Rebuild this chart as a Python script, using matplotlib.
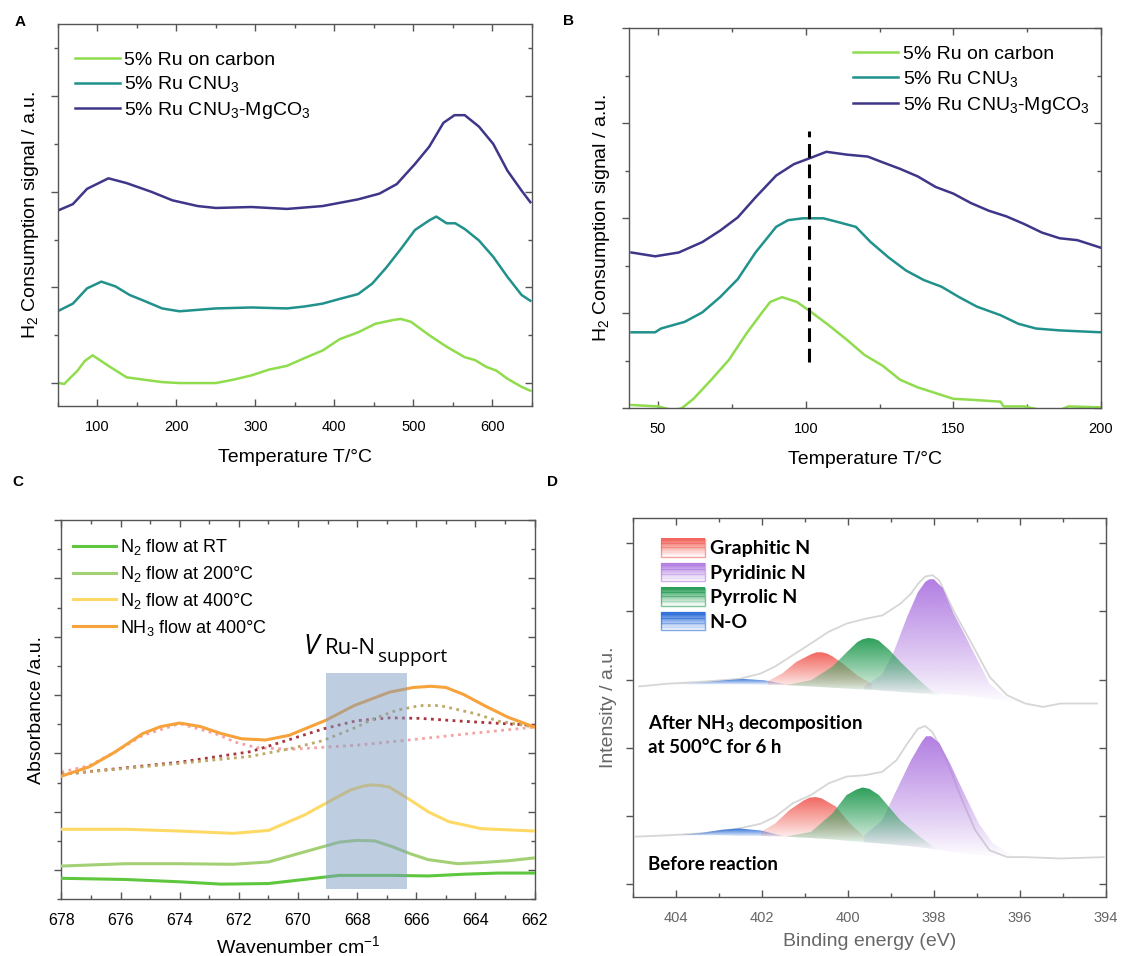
import numpy as np
import matplotlib
matplotlib.use("Agg")
import matplotlib.pyplot as plt
import matplotlib.colors as mcolors
from matplotlib.legend_handler import HandlerBase
from matplotlib.patches import Rectangle, Patch
from matplotlib.ticker import MultipleLocator

plt.rcParams["font.family"] = ["Liberation Sans", "DejaVu Sans"]
plt.rcParams["mathtext.fontset"] = "custom"
plt.rcParams["mathtext.rm"] = "Liberation Sans"
plt.rcParams["mathtext.bf"] = "Lato:bold"
plt.rcParams["mathtext.default"] = "rm"

# ── Panel A: TPR 50-650 °C ────────────────────────────────────────────────
A_T_carbon = [52, 58, 75, 84, 94, 114, 137, 159, 182, 204, 250, 272, 295, 317, 340, 362,
              385, 407, 430, 452, 475, 484, 497, 520, 542, 565, 578, 592, 605, 619, 637, 648]
A_carbon = [0.0, -0.01, 0.13, 0.23, 0.29, 0.18, 0.06, 0.035, 0.01, 0.0, 0.0, 0.035, 0.08,
            0.14, 0.18, 0.26, 0.34, 0.46, 0.53, 0.62, 0.66, 0.67, 0.64, 0.50, 0.38, 0.27,
            0.24, 0.17, 0.13, 0.045, -0.04, -0.08]
A_T_cnu = [52, 69, 87, 105, 123, 141, 159, 182, 204, 250, 295, 340, 362, 385, 407, 430, 448,
           466, 484, 502, 520, 529, 542, 553, 565, 583, 601, 619, 637, 648]
A_cnu = [0.76, 0.83, 0.99, 1.06, 1.01, 0.92, 0.86, 0.78, 0.75, 0.78, 0.79, 0.78, 0.80, 0.83,
         0.88, 0.93, 1.04, 1.21, 1.40, 1.60, 1.70, 1.74, 1.67, 1.67, 1.61, 1.49, 1.32, 1.11,
         0.92, 0.86]
A_T_mg = [52, 69, 87, 114, 137, 168, 195, 227, 250, 295, 340, 385, 430, 457, 479, 502, 520,
          538, 552, 565, 583, 601, 619, 637, 648]
A_mg = [1.81, 1.87, 2.03, 2.14, 2.09, 2.00, 1.91, 1.85, 1.83, 1.84, 1.82, 1.85, 1.92, 1.98,
        2.08, 2.29, 2.47, 2.72, 2.80, 2.80, 2.68, 2.50, 2.22, 2.01, 1.89]

# ── Panel B: TPR 40-200 °C ────────────────────────────────────────────────
B_T_carbon = [41, 50, 55, 58, 62, 68, 74, 80, 85, 88, 92, 97, 102, 108, 114, 120, 126, 132,
              138, 144, 150, 156, 166, 167, 174, 180, 186, 189, 200]
B_carbon = [0.035, 0.02, -0.02, 0.0, 0.1, 0.30, 0.51, 0.79, 1.0, 1.12, 1.17, 1.12, 1.01,
            0.87, 0.72, 0.56, 0.45, 0.30, 0.22, 0.16, 0.10, 0.09, 0.07, 0.02, 0.02, -0.02,
            -0.02, 0.02, 0.01]
B_T_cnu = [41, 49, 51, 59, 65, 71, 77, 83, 90, 94, 99, 106, 111, 117, 122, 128, 134, 140,
           146, 152, 158, 166, 172, 178, 186, 200]
B_cnu = [0.80, 0.80, 0.84, 0.91, 1.01, 1.17, 1.36, 1.64, 1.91, 1.98, 2.0, 2.0, 1.96, 1.91,
         1.75, 1.59, 1.45, 1.35, 1.28, 1.17, 1.07, 0.98, 0.89, 0.84, 0.82, 0.80]
B_T_mg = [41, 49, 57, 65, 71, 77, 83, 90, 96, 102, 107, 114, 121, 126, 132, 138, 144, 150,
          156, 162, 168, 174, 180, 186, 192, 200]
B_mg = [1.64, 1.60, 1.64, 1.75, 1.87, 2.01, 2.22, 2.45, 2.57, 2.64, 2.70, 2.67, 2.65, 2.59,
        2.52, 2.44, 2.33, 2.26, 2.16, 2.08, 2.02, 1.94, 1.85, 1.79, 1.77, 1.69]
B_mark_T = 101
B_mark_y = [0.49, 2.92]

SAMPLES = ["5% Ru on carbon", "5% Ru CNU$_3$", "5% Ru CNU$_3$-MgCO$_3$"]
TPR_COLORS = ["#8fdc4c", "#21918c", "#3e3688"]

# ── Panel C: DRIFTS ───────────────────────────────────────────────────────
C_wn_rt = [678, 675.85, 674, 672.6, 671, 669.8, 668.6, 666.8, 665.6, 664.4, 663.2, 662]
C_rt = [-0.14, -0.16, -0.20, -0.24, -0.23, -0.16, -0.09, -0.09, -0.10, -0.07, -0.05, -0.05]
C_wn_200 = [678, 675.85, 674, 672.2, 671, 669.8, 668.6, 668, 667.4, 666.8, 666.2, 665.6,
            664.6, 663.8, 662.9, 662]
C_200 = [0.07, 0.11, 0.11, 0.10, 0.14, 0.31, 0.48, 0.51, 0.50, 0.40, 0.28, 0.18, 0.11, 0.13,
         0.16, 0.21]
C_wn_400 = [678, 675.85, 674, 672.2, 671, 669.8, 668.97, 668.24, 667.8, 667.5, 667.2, 666.9,
            666.2, 665.6, 664.9, 663.8, 662]
C_400 = [0.70, 0.70, 0.67, 0.63, 0.68, 0.94, 1.17, 1.37, 1.44, 1.46, 1.45, 1.42, 1.20, 1.00,
         0.83, 0.71, 0.67]
C_wn_nh3 = [678, 677.06, 676.2, 675.25, 674.64, 674, 673.3, 672.6, 671.9, 671.1, 670.3,
            669.05, 668.1, 666.9, 666.1, 665.5, 665.0, 664.4, 663.7, 662.9, 662]
C_nh3 = [1.61, 1.77, 2.02, 2.34, 2.46, 2.52, 2.46, 2.34, 2.25, 2.23, 2.31, 2.57, 2.82, 3.05,
         3.13, 3.15, 3.13, 3.01, 2.82, 2.62, 2.45]
C_wn_fit1 = [678, 677.06, 676.2, 675.25, 674, 672.8, 672.1, 671.4, 670.27, 668.02, 665.87,
             664, 662]
C_fit1 = [1.68, 1.79, 2.02, 2.31, 2.51, 2.34, 2.19, 2.10, 2.07, 2.14, 2.25, 2.35, 2.45]
C_wn_fit2 = [678, 674, 671.6, 670.27, 669.15, 668.02, 666.89, 665.87, 664.4, 662]
C_fit2 = [1.64, 1.85, 2.03, 2.24, 2.42, 2.56, 2.61, 2.60, 2.55, 2.48]
C_wn_fit3 = [678, 674, 671.6, 670.27, 669.15, 668.02, 667.46, 666.66, 665.87, 665.2, 664,
             663.2, 662]
C_fit3 = [1.64, 1.83, 1.95, 2.08, 2.22, 2.45, 2.59, 2.74, 2.82, 2.82, 2.68, 2.55, 2.45]
C_band = [669.05, 666.33]
C_band_y = [-0.325, 3.38]

C_LABELS = ["N$_2$ flow at RT", "N$_2$ flow at 200°C", "N$_2$ flow at 400°C",
            "NH$_3$ flow at 400°C"]
C_COLORS = ["#5ec73e", "#a4d075", "#ffd966", "#f7a23a"]
C_FIT_COLORS = ["#f4a3a3", "#a9343c", "#bfa765"]

# ── Panel D: XPS N 1s ─────────────────────────────────────────────────────
D_be_raw_up = [404.86, 404.19, 403.36, 402.53, 402.03, 401.7, 401.28, 400.86, 400.45, 400.03,
               399.6, 399.2, 398.78, 398.53, 398.37, 398.2, 398.03, 397.87, 397.54, 397.12,
               396.7, 396.29, 395.87, 395.46, 395.04, 394.2]
D_raw_up = [2.90, 2.94, 2.97, 3.01, 3.09, 3.19, 3.36, 3.53, 3.70, 3.82, 3.89, 3.94, 4.11,
            4.26, 4.40, 4.51, 4.53, 4.45, 4.01, 3.53, 3.04, 2.77, 2.65, 2.60, 2.65, 2.65]
D_be_raw_lo = [404.94, 404.19, 403.36, 402.53, 402.03, 401.7, 401.28, 400.86, 400.45, 400.03,
               399.6, 399.2, 398.87, 398.62, 398.37, 398.2, 398.03, 397.7, 397.37, 397.04,
               396.7, 396.29, 395.87, 395.04, 394.04]
D_raw_lo = [0.70, 0.72, 0.75, 0.82, 0.89, 0.99, 1.19, 1.31, 1.48, 1.58, 1.60, 1.65, 1.82,
            2.06, 2.28, 2.32, 2.23, 1.82, 1.28, 0.80, 0.50, 0.40, 0.40, 0.38, 0.40]

# fitted components: binding energy, upper edge, background under it
D_no_up = ([404.02, 403.36, 402.86, 402.44, 401.95, 401.36],
           [2.93, 2.96, 2.99, 3.01, 2.99, 2.92],
           [2.93, 2.93, 2.93, 2.93, 2.92, 2.92])
D_gr_up = ([401.86, 401.53, 401.2, 400.86, 400.73, 400.61, 400.48, 400.36, 400.11, 399.78,
            399.45],
           [2.98, 3.09, 3.26, 3.37, 3.40, 3.40, 3.38, 3.34, 3.23, 3.06, 2.94],
           [2.92, 2.92, 2.91, 2.90, 2.90, 2.89, 2.89, 2.88, 2.87, 2.86, 2.85])
D_pr_up = ([401.45, 400.86, 400.36, 400.03, 399.78, 399.66, 399.53, 399.4, 399.28, 399.03,
            398.78, 398.37, 398.03, 397.7],
           [2.92, 2.99, 3.19, 3.40, 3.55, 3.59, 3.61, 3.60, 3.57, 3.43, 3.26, 3.01, 2.82, 2.74],
           [2.92, 2.90, 2.88, 2.87, 2.86, 2.86, 2.85, 2.85, 2.84, 2.83, 2.82, 2.80, 2.78, 2.74])
D_py_up = ([399.62, 399.2, 398.95, 398.62, 398.37, 398.2, 398.1, 398.0, 397.79, 397.54,
            397.29, 397.04, 396.7, 396.29, 395.79],
           [2.90, 3.08, 3.38, 3.92, 4.28, 4.43, 4.47, 4.47, 4.34, 3.97, 3.67, 3.36, 2.94, 2.72,
            2.66],
           [2.86, 2.84, 2.83, 2.81, 2.80, 2.80, 2.80, 2.80, 2.79, 2.78, 2.77, 2.75, 2.72, 2.68,
            2.66])
D_no_lo = ([403.94, 403.36, 402.94, 402.53, 402.03, 401.45],
           [0.72, 0.76, 0.80, 0.82, 0.79, 0.70],
           [0.72, 0.72, 0.72, 0.71, 0.71, 0.70])
D_gr_lo = ([402.03, 401.7, 401.36, 401.03, 400.9, 400.75, 400.61, 400.28, 399.95, 399.62],
           [0.77, 0.89, 1.09, 1.23, 1.27, 1.28, 1.26, 1.14, 0.89, 0.70],
           [0.71, 0.70, 0.70, 0.68, 0.68, 0.67, 0.67, 0.65, 0.64, 0.63])
D_pr_lo = ([401.45, 400.86, 400.36, 400.03, 399.8, 399.66, 399.5, 399.28, 398.78, 398.37,
            397.95, 397.87],
           [0.70, 0.77, 1.04, 1.31, 1.39, 1.42, 1.40, 1.31, 0.94, 0.72, 0.52, 0.50],
           [0.70, 0.68, 0.66, 0.64, 0.63, 0.62, 0.61, 0.60, 0.57, 0.55, 0.51, 0.50])
D_py_lo = ([399.62, 399.2, 398.87, 398.53, 398.28, 398.18, 398.06, 397.87, 397.62, 397.29,
            396.95, 396.62, 396.2, 395.7],
           [0.72, 0.94, 1.38, 1.82, 2.09, 2.17, 2.17, 2.07, 1.77, 1.33, 0.89, 0.60, 0.43, 0.38],
           [0.62, 0.60, 0.58, 0.56, 0.54, 0.53, 0.52, 0.51, 0.48, 0.45, 0.43, 0.41, 0.39, 0.38])

D_LABELS = ["Graphitic N", "Pyridinic N", "Pyrrolic N", "N-O"]
D_COLORS = ["#f2665e", "#b27ee2", "#2b9e58", "#2f6fd9"]

SPINE = "#555555"


def frame(ax, xmaj, xmin, ymaj, ymin, lw=1.0):
    for s in ax.spines.values():
        s.set_color(SPINE)
        s.set_linewidth(lw)
    ax.xaxis.set_major_locator(MultipleLocator(xmaj))
    ax.xaxis.set_minor_locator(MultipleLocator(xmin))
    ax.yaxis.set_major_locator(MultipleLocator(ymaj))
    ax.yaxis.set_minor_locator(MultipleLocator(ymin))
    ax.tick_params(which="both", top=True, right=True, direction="in", color=SPINE)
    ax.tick_params(axis="y", which="both", left=True, labelleft=False)
    ax.tick_params(which="major", length=5, width=1)
    ax.tick_params(which="minor", length=3, width=1)
    # left ticks point outward, the rest inward
    for t in ax.yaxis.get_major_ticks() + ax.yaxis.get_minor_ticks():
        t.tick1line.set_marker(matplotlib.lines.TICKLEFT)


def letter(fig, x, y, s):
    fig.text(x / 1121, 1 - y / 956, s, fontsize=11, fontweight="bold",
             ha="center", va="center")


def grad_fill(ax, comp, color, z):
    x, top, base = comp
    poly = ax.fill_between(x, base, top, facecolor="none", edgecolor="none", zorder=z)
    path = poly.get_paths()[0]
    img = np.zeros((200, 2, 4))
    img[..., :3] = mcolors.to_rgb(color)
    img[..., 3] = np.linspace(0.0, 1.0, 200)[:, None] ** 0.9
    im = ax.imshow(img, extent=[min(x), max(x), min(base), max(top)], origin="lower",
                   aspect="auto", interpolation="bilinear", zorder=z)
    im.set_clip_path(path, transform=ax.transData)


class GradHandler(HandlerBase):
    def create_artists(self, legend, orig_handle, xdescent, ydescent, width, height,
                       fontsize, trans):
        col = mcolors.to_rgb(orig_handle.get_facecolor())
        arts = []
        n = 14
        for i in range(n):
            a = 1.0 - 0.95 * i / (n - 1)
            y0 = -ydescent + height * (n - 1 - i) / n
            arts.append(Rectangle((-xdescent, y0), width, height / n + 0.2, facecolor=col,
                                  alpha=a, lw=0, transform=trans))
        arts.append(Rectangle((-xdescent, -ydescent), width, height, facecolor="none",
                              edgecolor=col + (0.6,), lw=1.0, transform=trans))
        return arts


fig = plt.figure(figsize=(11.21, 9.56), dpi=100)

# ── A ──
axA = fig.add_axes([0.0516, 0.5753, 0.4229, 0.3993])
for xs, ys, c, lab in zip([A_T_carbon, A_T_cnu, A_T_mg], [A_carbon, A_cnu, A_mg],
                          TPR_COLORS, SAMPLES):
    axA.plot(xs, ys, color=c, lw=1.8, label=lab)
axA.set_xlim(50, 650)
axA.set_ylim(-0.24, 3.75)
frame(axA, 100, 50, 1, 0.5)
axA.tick_params(axis="x", labelsize=10.5, pad=10)
axA.set_xlabel("Temperature T/°C", fontsize=14, labelpad=11)
axA.set_ylabel("H$_2$ Consumption signal / a.u.", fontsize=14, labelpad=12)
axA.legend(loc="upper left", bbox_to_anchor=(0.036, 0.93), frameon=False, fontsize=14,
           handlelength=2.3, handletextpad=0.25, labelspacing=0.3, borderpad=0,
           borderaxespad=0)

# ── B ──
axB = fig.add_axes([0.5607, 0.5729, 0.4214, 0.3975])
for xs, ys, c, lab in zip([B_T_carbon, B_T_cnu, B_T_mg], [B_carbon, B_cnu, B_mg],
                          TPR_COLORS, SAMPLES):
    axB.plot(xs, ys, color=c, lw=1.8, label=lab)
axB.plot([B_mark_T, B_mark_T], B_mark_y, color="black", lw=2.2, ls=(0, (4.5, 2.2)))
axB.set_xlim(40, 200)
axB.set_ylim(0, 4)
frame(axB, 50, 25, 1, 0.5)
axB.tick_params(axis="x", labelsize=10.5, pad=10)
axB.set_xlabel("Temperature T/°C", fontsize=14, labelpad=11)
axB.set_ylabel("H$_2$ Consumption signal / a.u.", fontsize=14, labelpad=12)
axB.legend(loc="upper left", bbox_to_anchor=(0.475, 0.955), frameon=False, fontsize=14,
           handlelength=2.3, handletextpad=0.25, labelspacing=0.3, borderpad=0,
           borderaxespad=0)

# ── C ──
axC = fig.add_axes([0.0548, 0.0593, 0.4221, 0.3968])
for xs, ys, c, lab in zip([C_wn_rt, C_wn_200, C_wn_400, C_wn_nh3],
                          [C_rt, C_200, C_400, C_nh3], C_COLORS, C_LABELS):
    axC.plot(xs, ys, color=c, lw=2.2, label=lab, zorder=3)
for xs, ys, c in zip([C_wn_fit1, C_wn_fit2, C_wn_fit3], [C_fit1, C_fit2, C_fit3],
                     C_FIT_COLORS):
    axC.plot(xs, ys, color=c, lw=2.0, ls=(0, (1, 1.6)), zorder=2)
axC.add_patch(Rectangle((C_band[0], C_band_y[0]), C_band[1] - C_band[0],
                        C_band_y[1] - C_band_y[0], facecolor="#7f9fc3", alpha=0.5,
                        lw=0, zorder=4))
axC.text(669.81, 3.70, "V", fontsize=20, style="italic", family="Open Sans", va="baseline")
axC.text(669.09, 3.70, "Ru-N", fontsize=16, family="Open Sans", va="baseline")
axC.text(667.28, 3.57, "support", fontsize=13.5, family="Open Sans", va="baseline")
axC.set_xlim(678, 662)
axC.set_ylim(-0.5, 6)
frame(axC, 2, 1, 1, 0.5)
axC.tick_params(axis="x", labelsize=11.5, pad=10)
axC.set_xlabel("Wavenumber cm$^{-1}$", fontsize=14, labelpad=5)
axC.set_ylabel("Absorbance /a.u.", fontsize=14, labelpad=12)
axC.legend(loc="upper left", bbox_to_anchor=(0.0245, 0.955), frameon=False, fontsize=13,
           handlelength=2.4, handletextpad=0.2, labelspacing=0.38, borderpad=0,
           borderaxespad=0)

# ── D ──
axD = fig.add_axes([0.5649, 0.0620, 0.4213, 0.3964])
axD.plot(D_be_raw_up, D_raw_up, color="#d6d6d6", lw=1.3, zorder=1)
axD.plot(D_be_raw_lo, D_raw_lo, color="#d6d6d6", lw=1.3, zorder=1)
for comps in [(D_gr_up, D_py_up, D_pr_up, D_no_up), (D_gr_lo, D_py_lo, D_pr_lo, D_no_lo)]:
    for comp, c, z in zip(comps, D_COLORS, [3, 2, 4, 2]):
        grad_fill(axD, comp, c, z)
axD.text(404.65, 2.28, "After NH$_\\mathbf{3}$ decomposition", fontsize=13.5,
         family="Lato", fontweight="bold", va="baseline")
axD.text(404.65, 1.92, "at 500°C for 6 h", fontsize=13.5, family="Lato",
         fontweight="bold", va="baseline")
axD.text(404.65, 0.21, "Before reaction", fontsize=13.5, family="Lato",
         fontweight="bold", va="baseline")
axD.set_xlim(405, 394)
axD.set_ylim(-0.18, 5.37)
frame(axD, 2, 1, 1, 1)
axD.tick_params(axis="x", labelsize=10.5, pad=10, labelcolor="#666666")
axD.set_xlabel("Binding energy (eV)", fontsize=14, labelpad=6, color="#666666")
axD.set_ylabel("Intensity / a.u.", fontsize=14, labelpad=12, color="#666666")
handles = [Patch(facecolor=c) for c in D_COLORS]
axD.legend(handles, D_LABELS, loc="upper left", bbox_to_anchor=(0.058, 0.945),
           frameon=False, handler_map={Patch: GradHandler()},
           prop={"family": "Lato", "weight": "bold", "size": 14},
           handlelength=2.27, handleheight=1.05, handletextpad=0.25,
           labelspacing=0.3, borderpad=0, borderaxespad=0)

letter(fig, 20, 22, "A")
letter(fig, 569, 21, "B")
letter(fig, 18, 482, "C")
letter(fig, 552, 482, "D")

fig.savefig("out.png", dpi=100)
